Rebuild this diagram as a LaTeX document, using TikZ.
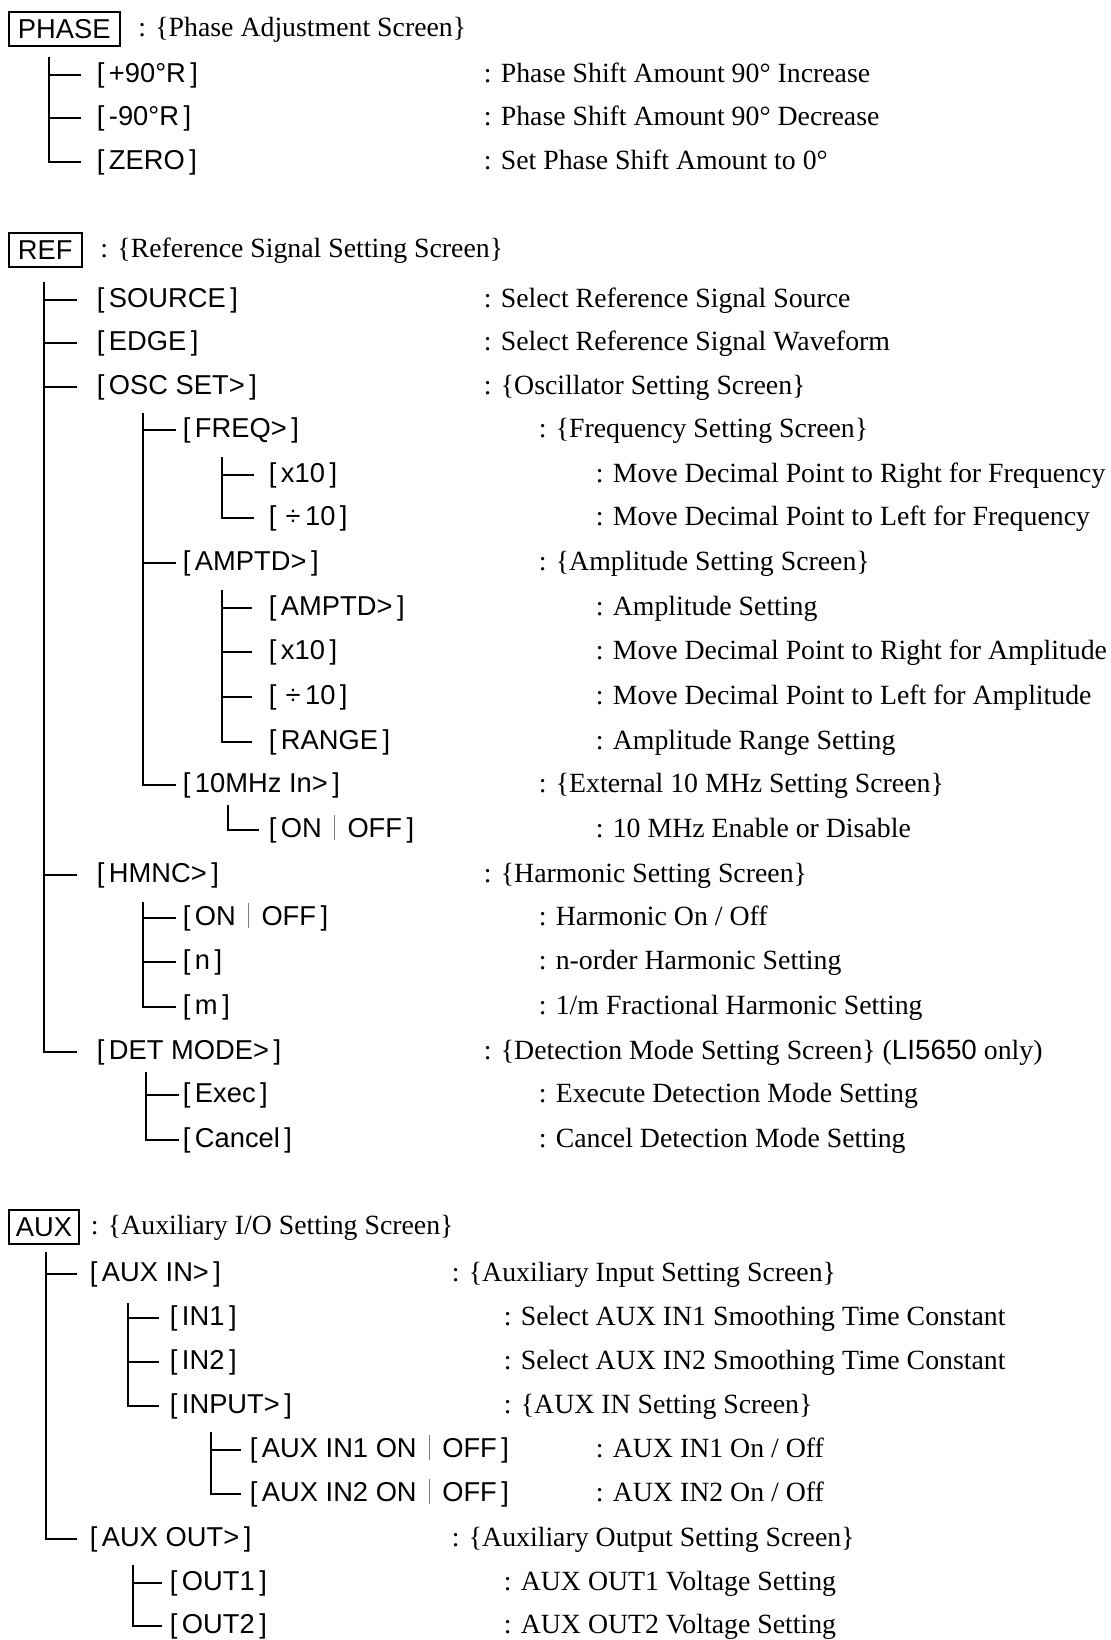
\documentclass[tikz,border=0pt]{standalone}
\usepackage{fontspec}
\setmainfont{Liberation Serif}
\setsansfont{Liberation Sans}
\usetikzlibrary{positioning,calc}

\newcommand{\menusize}{\fontsize{13.65pt}{16pt}\selectfont}
\newcommand{\infosize}{\fontsize{13.9pt}{16pt}\selectfont}
\newcommand{\swbar}{\hspace{0.45em}\textcolor{black!50}{\rule[-0.08em]{0.5pt}{0.92em}}\hspace{0.45em}}
\newcommand{\divten}{\,\,÷\,10}

\tikzset{
  menubox/.style={draw,line width=1pt,font=\sffamily\menusize,inner xsep=4.5pt,inner ysep=0pt,minimum height=17pt,anchor=west},
  key/.style={font=\sffamily\menusize,anchor=west,inner sep=0pt,text height=10.6pt,text depth=3pt},
  info/.style={font=\rmfamily\infosize,anchor=west,inner sep=0pt,text height=10.6pt,text depth=3pt},
}

\begin{document}
\begin{tikzpicture}[x=0.5pt,y=-0.5pt,line width=0.85pt]
\useasboundingbox (0,0) rectangle (1111,1640);
% ---------- PHASE ----------
\node[menubox] (phase) at (8,29) {PHASE};
\node[info,right=8.5pt of phase] (phasescr) {: \{Phase Adjustment Screen\}};
\node[key] (plus)  at (96,75)  {[\,+90°R\,]};
\node[key] (minus) at (96,118) {[\,-90°R\,]};
\node[key] (zero)  at (96,162) {[\,ZERO\,]};
\node[info] (plusinfo)  at (483,75)  {: Phase Shift Amount 90° Increase};
\node[info] (minusinfo) at (483,118) {: Phase Shift Amount 90° Decrease};
\node[info] (zeroinfo)  at (483,162) {: Set Phase Shift Amount to 0°};
\coordinate (phasetrunk) at (49,57);
\foreach \n in {plus,minus,zero} \draw (phasetrunk) |- ([xshift=-7.5pt]\n.west);
% ---------- REF ----------
\node[menubox] (ref) at (8,250) {REF};
\node[info,right=8.5pt of ref] (refscr) {: \{Reference Signal Setting Screen\}};
\node[key] (source)  at (96,300)  {[\,SOURCE\,]};
\node[key] (refedge) at (96,343)  {[\,EDGE\,]};
\node[key] (osc)     at (96,387)  {[\,OSC SET>\,]};
\node[key] (hmnc)    at (96,875)  {[\,HMNC>\,]};
\node[key] (det)     at (96,1052) {[\,DET MODE>\,]};
\node[info] (sourceinfo) at (483,300)  {: Select Reference Signal Source};
\node[info] (edgeinfo)   at (483,343)  {: Select Reference Signal Waveform};
\node[info] (oscinfo)    at (483,387)  {: \{Oscillator Setting Screen\}};
\node[info] (hmncinfo)   at (483,875)  {: \{Harmonic Setting Screen\}};
\node[info] (detinfo)    at (483,1052) {: \{Detection Mode Setting Screen\} (\textsf{LI5650} only)};
\coordinate (reftrunk) at (44,282);
\foreach \n in {source,refedge,osc,hmnc,det} \draw (reftrunk) |- ([xshift=-9.5pt]\n.west);
% oscillator
\node[key] (freq)  at (182,430) {[\,FREQ>\,]};
\node[key] (amptd) at (182,563) {[\,AMPTD>\,]};
\node[key] (mhz)   at (182,785) {[\,10MHz In>\,]};
\node[info] (freqinfo)  at (538,430) {: \{Frequency Setting Screen\}};
\node[info] (amptdinfo) at (538,563) {: \{Amplitude Setting Screen\}};
\node[info] (mhzinfo)   at (538,785) {: \{External 10 MHz Setting Screen\}};
\coordinate (osctrunk) at (143,413);
\foreach \n in {freq,amptd,mhz} \draw (osctrunk) |- ([xshift=-3pt]\n.west);
% frequency
\node[key] (fmul) at (268,475) {[\,x10\,]};
\node[key] (fdiv) at (268,518) {[\divten\,]};
\node[info] (fmulinfo) at (595,475) {: Move Decimal Point to Right for Frequency};
\node[info] (fdivinfo) at (595,518) {: Move Decimal Point to Left for Frequency};
\coordinate (freqtrunk) at (222,457);
\foreach \n in {fmul,fdiv} \draw (freqtrunk) |- ([xshift=-7pt]\n.west);
% amplitude
\node[key] (aset)   at (268,608) {[\,AMPTD>\,]};
\node[key] (amul)   at (268,652) {[\,x10\,]};
\node[key] (adiv)   at (268,697) {[\divten\,]};
\node[key] (arange) at (268,742) {[\,RANGE\,]};
\node[info] (asetinfo)   at (595,608) {: Amplitude Setting};
\node[info] (amulinfo)   at (595,652) {: Move Decimal Point to Right for Amplitude};
\node[info] (adivinfo)   at (595,697) {: Move Decimal Point to Left for Amplitude};
\node[info] (arangeinfo) at (595,742) {: Amplitude Range Setting};
\coordinate (amptdtrunk) at (222,590);
\foreach \n in {aset,amul,adiv,arange} \draw (amptdtrunk) |- ([xshift=-8pt]\n.west);
% 10 MHz
\node[key] (mhzsw) at (268,830) {[\,ON\swbar OFF\,]};
\node[info] (mhzswinfo) at (595,830) {: 10 MHz Enable or Disable};
\coordinate (mhztrunk) at (228,805);
\draw (mhztrunk) |- ([xshift=-4.5pt]mhzsw.west);
% harmonic
\node[key] (hsw)    at (182,918)  {[\,ON\swbar OFF\,]};
\node[key] (horder) at (182,962)  {[\,n\,]};
\node[key] (hfrac)  at (182,1007) {[\,m\,]};
\node[info] (hswinfo)    at (538,918)  {: Harmonic On / Off};
\node[info] (horderinfo) at (538,962)  {: n-order Harmonic Setting};
\node[info] (hfracinfo)  at (538,1007) {: 1/m Fractional Harmonic Setting};
\coordinate (hmnctrunk) at (143,902);
\foreach \n in {hsw,horder,hfrac} \draw (hmnctrunk) |- ([xshift=-3pt]\n.west);
% detection mode
\node[key] (exec)   at (182,1095) {[\,Exec\,]};
\node[key] (cancel) at (182,1140) {[\,Cancel\,]};
\node[info] (execinfo)   at (538,1095) {: Execute Detection Mode Setting};
\node[info] (cancelinfo) at (538,1140) {: Cancel Detection Mode Setting};
\coordinate (dettrunk) at (146,1072);
\foreach \n in {exec,cancel} \draw (dettrunk) |- ([xshift=-1.5pt]\n.west);
% ---------- AUX ----------
\node[menubox,inner xsep=3.5pt] (aux) at (8,1227) {AUX};
\node[info,right=5pt of aux] (auxscr) {: \{Auxiliary I/O Setting Screen\}};
\node[key] (auxin)  at (89,1274) {[\,AUX IN>\,]};
\node[key] (auxout) at (89,1539) {[\,AUX OUT>\,]};
\node[info] (auxininfo)  at (451,1274) {: \{Auxiliary Input Setting Screen\}};
\node[info] (auxoutinfo) at (451,1539) {: \{Auxiliary Output Setting Screen\}};
\coordinate (auxtrunk) at (46,1252);
\foreach \n in {auxin,auxout} \draw (auxtrunk) |- ([xshift=-6pt]\n.west);
% aux in
\node[key] (inone) at (169,1318) {[\,IN1\,]};
\node[key] (intwo) at (169,1362) {[\,IN2\,]};
\node[key] (input) at (169,1406) {[\,INPUT>\,]};
\node[info] (inoneinfo) at (503,1318) {: Select AUX IN1 Smoothing Time Constant};
\node[info] (intwoinfo) at (503,1362) {: Select AUX IN2 Smoothing Time Constant};
\node[info] (inputinfo) at (503,1406) {: \{AUX IN Setting Screen\}};
\coordinate (auxintrunk) at (128,1303);
\foreach \n in {inone,intwo,input} \draw (auxintrunk) |- ([xshift=-5pt]\n.west);
% input on/off
\node[key] (inonesw) at (249,1450) {[\,AUX IN1 ON\swbar OFF\,]};
\node[key] (intwosw) at (249,1494) {[\,AUX IN2 ON\swbar OFF\,]};
\node[info] (inoneswinfo) at (595,1450) {: AUX IN1 On / Off};
\node[info] (intwoswinfo) at (595,1494) {: AUX IN2 On / Off};
\coordinate (inputtrunk) at (211,1432);
\foreach \n in {inonesw,intwosw} \draw (inputtrunk) |- ([xshift=-4pt]\n.west);
% aux out
\node[key] (outone) at (169,1583) {[\,OUT1\,]};
\node[key] (outtwo) at (169,1626) {[\,OUT2\,]};
\node[info] (outoneinfo) at (503,1583) {: AUX OUT1 Voltage Setting};
\node[info] (outtwoinfo) at (503,1626) {: AUX OUT2 Voltage Setting};
\coordinate (auxouttrunk) at (133,1565);
\foreach \n in {outone,outtwo} \draw (auxouttrunk) |- ([xshift=-3.5pt]\n.west);
\end{tikzpicture}
\end{document}
